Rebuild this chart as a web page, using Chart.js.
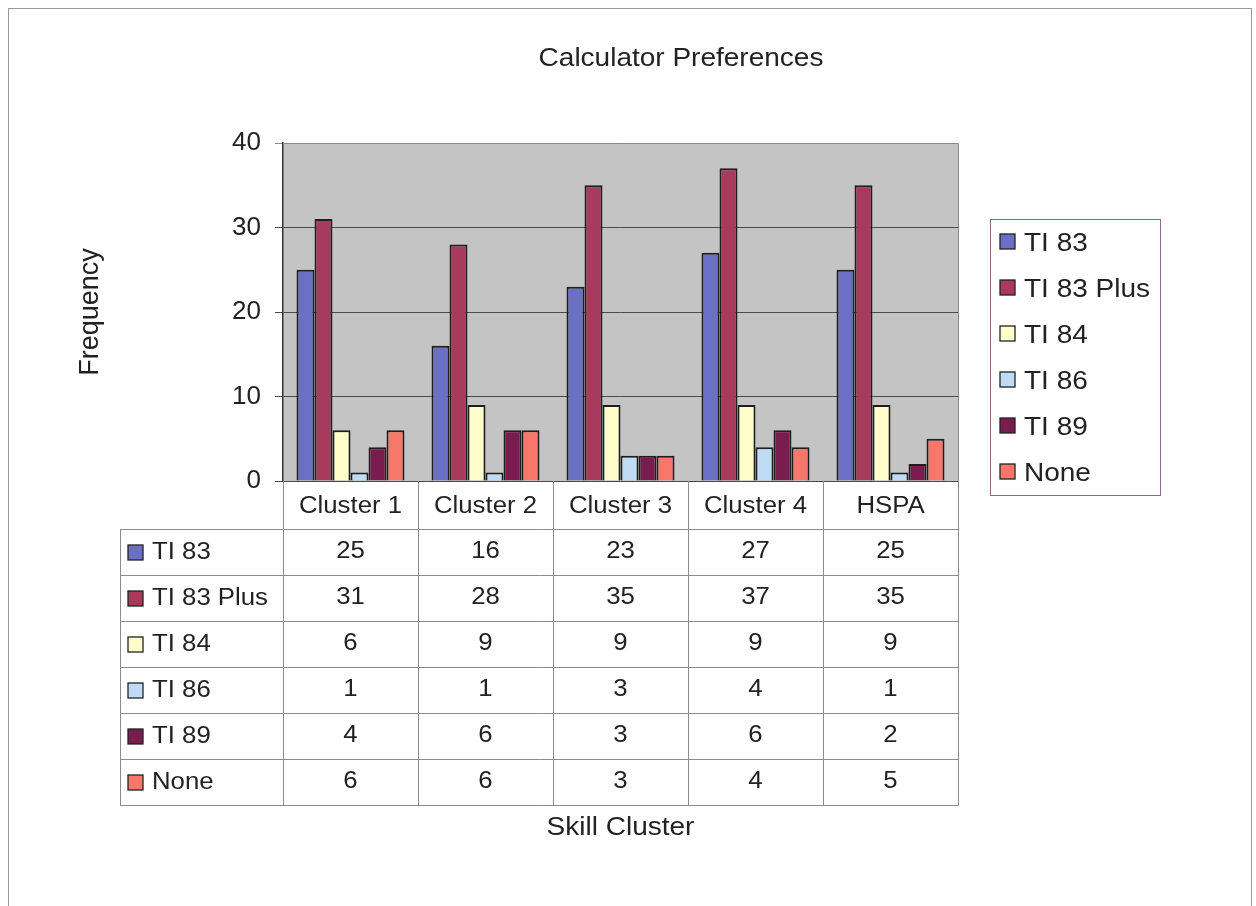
<!DOCTYPE html>
<html>
<head>
<meta charset="utf-8">
<title>Calculator Preferences</title>
<script src="https://cdn.jsdelivr.net/npm/chart.js@4/dist/chart.umd.min.js"></script>
<style>
  html, body { margin: 0; padding: 0; background: #fff; }
  #wrap { width: 1256px; height: 906px; }
</style>
</head>
<body>
<div id="wrap"><canvas id="chart1" width="1256" height="906"></canvas></div>
<script>
// datos de la gráfica
const categories = ['Cluster 1', 'Cluster 2', 'Cluster 3', 'Cluster 4', 'HSPA'];
const seriesNames = ['TI 83', 'TI 83 Plus', 'TI 84', 'TI 86', 'TI 89', 'None'];
const ti83 = [25, 16, 23, 27, 25];
const ti83Plus = [31, 28, 35, 37, 35];
const ti84 = [6, 9, 9, 9, 9];
const ti86 = [1, 1, 3, 4, 1];
const ti89 = [4, 6, 3, 6, 2];
const none = [6, 6, 3, 4, 5];
const yTicks = [0, 10, 20, 30, 40];

const seriesValues = [ti83, ti83Plus, ti84, ti86, ti89, none];
const seriesColors = ['#6b70c4', '#a83a5e', '#fefecb', '#c0dcf5', '#7b1c4f', '#f7786a'];
const FONT = "'Liberation Sans', Arial, sans-serif";
const STRETCH = 1.12; // el texto original sale un poco ensanchado

// texto ensanchado horizontalmente
function wideText(ctx, text, x, y, align, size) {
    ctx.save();
    ctx.font = size + 'px ' + FONT;
    ctx.textAlign = align;
    ctx.textBaseline = 'middle';
    ctx.translate(x, y);
    ctx.scale(STRETCH, 1);
    ctx.fillText(text, 0, 0);
    ctx.restore();
}

// Plugin: fondo, título, leyenda y tabla de datos
const excelLook = {
    id: 'excelLook',
    beforeDraw(chart) {
        const ctx = chart.ctx;
        const a = chart.chartArea;
        ctx.save();
        ctx.fillStyle = '#ffffff';
        ctx.fillRect(0, 0, chart.width, chart.height);
        ctx.strokeStyle = '#9a9a9a';
        ctx.lineWidth = 1;
        ctx.strokeRect(8.5, 8.5, 1243, 900);
        ctx.fillStyle = '#c4c4c4';
        ctx.fillRect(a.left, a.top, a.right - a.left, a.bottom - a.top);
        ctx.restore();
    },
    afterDraw(chart) {
        const ctx = chart.ctx;
        const a = chart.chartArea;
        const xs = chart.scales.x;
        ctx.save();

        // borde del área de trazado
        ctx.strokeStyle = '#8a8a8a';
        ctx.lineWidth = 1;
        ctx.beginPath();
        ctx.moveTo(a.left, a.top + 0.5);
        ctx.lineTo(a.right + 0.5, a.top + 0.5);
        ctx.lineTo(a.right + 0.5, a.bottom);
        ctx.stroke();

        ctx.fillStyle = '#222';
        // título
        wideText(ctx, 'Calculator Preferences', 681, 59, 'center', 25);

        // leyenda
        ctx.strokeStyle = '#8a6a8a';
        ctx.lineWidth = 1;
        ctx.strokeRect(990.5, 219.5, 170, 276);
        seriesNames.forEach((name, i) => {
            const cy = 242 + i * 46;
            ctx.fillStyle = seriesColors[i];
            ctx.fillRect(1000, cy - 8, 15, 15);
            ctx.strokeStyle = '#222';
            ctx.lineWidth = 1.3;
            ctx.strokeRect(1000, cy - 8, 15, 15);
            ctx.fillStyle = '#222';
            wideText(ctx, name, 1024, cy + 2, 'left', 25);
        });

        // tabla de datos
        const colW = (a.right - a.left) / categories.length;
        const tLeft = 120;
        const headTop = a.bottom;
        const rowTop = 529;
        const rowH = 46;
        const tBottom = rowTop + rowH * seriesNames.length;

        ctx.strokeStyle = '#8c8c8c';
        ctx.lineWidth = 1;
        ctx.beginPath();
        // líneas verticales
        for (let i = 0; i <= categories.length; i++) {
            const x = Math.round(a.left + i * colW) + 0.5;
            ctx.moveTo(x, headTop);
            ctx.lineTo(x, tBottom);
        }
        ctx.moveTo(tLeft + 0.5, rowTop);
        ctx.lineTo(tLeft + 0.5, tBottom);
        // líneas horizontales
        for (let r = 0; r <= seriesNames.length; r++) {
            const y = rowTop + r * rowH + 0.5;
            ctx.moveTo(tLeft, y);
            ctx.lineTo(a.right + 0.5, y);
        }
        ctx.stroke();

        ctx.fillStyle = '#222';
        categories.forEach((c, i) => {
            wideText(ctx, c, xs.getPixelForValue(i), (headTop + rowTop) / 2 + 2, 'center', 23);
        });

        seriesNames.forEach((name, r) => {
            const cy = rowTop + r * rowH + rowH / 2;
            ctx.fillStyle = seriesColors[r];
            ctx.fillRect(128, cy - 7, 15, 15);
            ctx.strokeStyle = '#222';
            ctx.lineWidth = 1.3;
            ctx.strokeRect(128, cy - 7, 15, 15);
            ctx.fillStyle = '#222';
            wideText(ctx, name, 152, cy + 1, 'left', 23);
            seriesValues[r].forEach((v, i) => {
                wideText(ctx, String(v), xs.getPixelForValue(i), cy, 'center', 23);
            });
        });

        // título del eje x
        wideText(ctx, 'Skill Cluster', (a.left + a.right) / 2, 828, 'center', 25);
        ctx.restore();
    }
};

const ctx = document.getElementById('chart1').getContext('2d');
new Chart(ctx, {
    type: 'bar',
    data: {
        labels: categories,
        datasets: seriesNames.map((name, i) => ({
            label: name,
            data: seriesValues[i],
            backgroundColor: seriesColors[i],
            borderColor: '#1e1e1e',
            borderWidth: 2,
            categoryPercentage: 0.8,
            barPercentage: 1.0
        }))
    },
    options: {
        responsive: false,
        animation: false,
        maintainAspectRatio: false,
        layout: {
            padding: { left: 60, right: 298, top: 143, bottom: 425 }
        },
        plugins: {
            legend: { display: false },
            title: { display: false },
            tooltip: { enabled: false }
        },
        scales: {
            x: { display: false },
            y: {
                min: 0,
                max: 40,
                afterFit(scale) { scale.width = 223; },
                afterBuildTicks(scale) { scale.ticks = yTicks.map(v => ({ value: v })); },
                ticks: {
                    padding: 14,
                    color: '#222',
                    font: { family: FONT, size: 26 }
                },
                grid: {
                    color: c => (c.tick && c.tick.value === 40 ? '#8a8a8a' : '#4a4a4a'),
                    tickLength: 8,
                    lineWidth: 1
                },
                border: { color: '#333', width: 1.5 },
                title: {
                    display: true,
                    text: 'Frequency',
                    color: '#222',
                    font: { family: FONT, size: 27 },
                    padding: { top: 14, bottom: 0 }
                }
            }
        }
    },
    plugins: [excelLook]
});
</script>
</body>
</html>
